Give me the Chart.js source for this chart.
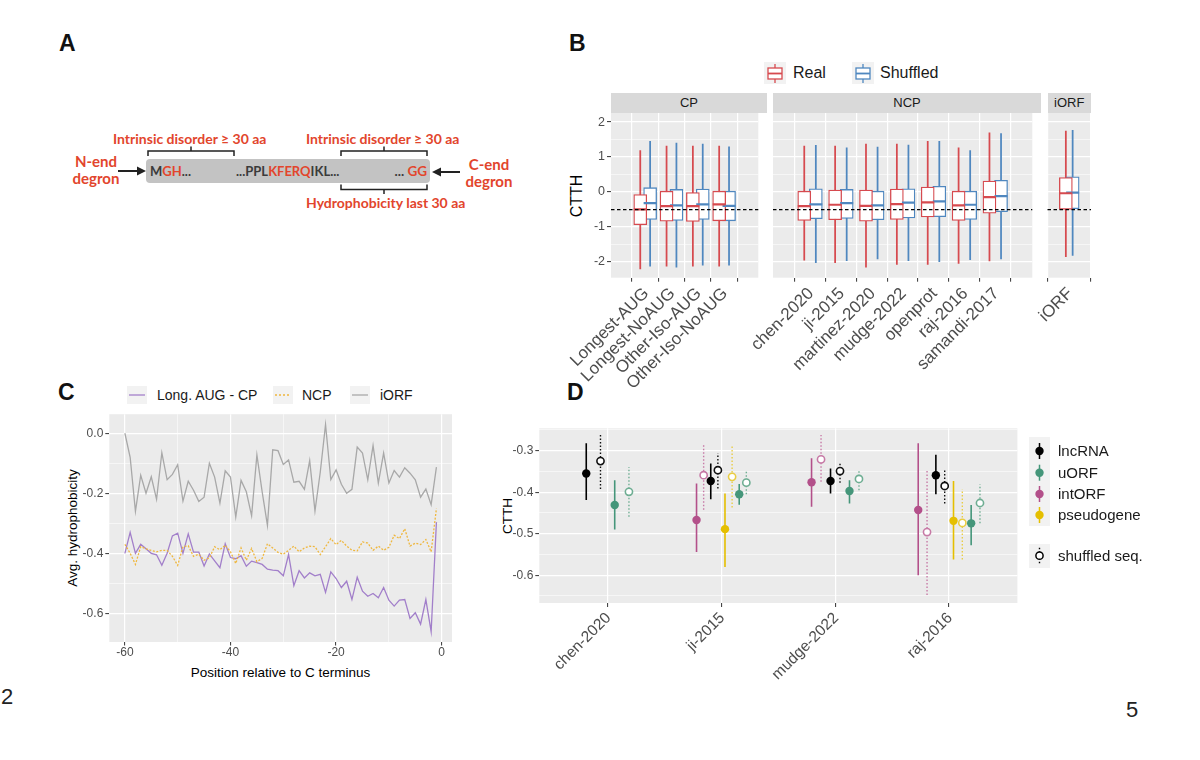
<!DOCTYPE html>
<html><head><meta charset="utf-8">
<script src="https://cdn.jsdelivr.net/npm/chart.js@4.4.1/dist/chart.umd.min.js"></script>
<style>
body{margin:0;background:#fff;width:1200px;height:760px;overflow:hidden;position:relative;font-family:"Liberation Sans",Arial,sans-serif;}
canvas{position:absolute;}
.t{position:absolute;white-space:nowrap;}
.plbl{position:absolute;font-weight:bold;font-size:23px;color:#111;line-height:23px;}
.ared{color:#e2452c;}
.adark{color:#3b3b3b;}
.at{position:absolute;white-space:nowrap;font-family:Lato,"Open Sans",sans-serif;font-weight:bold;font-size:14px;line-height:16px;}
.strip{position:absolute;background:#d9d9d9;color:#1a1a1a;font-size:13px;text-align:center;line-height:20px;height:20px;}
.rot{position:absolute;transform:rotate(-90deg);text-align:center;white-space:nowrap;color:#000;}
.keybg{position:absolute;background:#f2f2f2;}
</style></head><body>

<!-- panel letters and page numbers -->
<div class="plbl" style="left:59px;top:32px;">A</div>
<div class="plbl" style="left:569px;top:32px;">B</div>
<div class="plbl" style="left:58px;top:381px;">C</div>
<div class="plbl" style="left:567px;top:381px;">D</div>
<div class="t" style="left:1px;top:685px;font-size:22px;line-height:24px;color:#222;">2</div>
<div class="t" style="left:1126px;top:698px;font-size:22px;line-height:24px;color:#222;">5</div>

<!-- Panel A diagram -->
<div style="position:absolute;left:146px;top:159px;width:284px;height:24px;background:#c3c3c3;border-radius:4px;"></div>
<svg style="position:absolute;left:0;top:0;" width="560" height="230">
  <g stroke="#222" stroke-width="1.5" fill="none">
    <path d="M148,156 L148,151 L234,151 L234,156 M191,151 L191,146.5"/>
    <path d="M341,156 L341,151 L427,151 L427,156 M384,151 L384,146.5"/>
    <path d="M341,184.5 L341,189.5 L427,189.5 L427,184.5 M384,189.5 L384,194"/>
    <path d="M118,171 L139,171" stroke-width="2"/>
    <path d="M460,172 L439,172" stroke-width="2"/>
  </g>
  <polygon points="146,171 137,166.5 137,175.5" fill="#222"/>
  <polygon points="432,172 441,167.5 441,176.5" fill="#222"/>
</svg>
<div class="at ared" style="left:113px;top:131px;">Intrinsic disorder ≥ 30 aa</div>
<div class="at ared" style="left:306px;top:131px;">Intrinsic disorder ≥ 30 aa</div>
<div class="at ared" style="left:306px;top:194.5px;">Hydrophobicity last 30 aa</div>
<div class="at ared" style="left:61px;top:152.5px;width:70px;text-align:center;font-size:15px;line-height:17px;">N-end<br>degron</div>
<div class="at ared" style="left:454px;top:155.5px;width:70px;text-align:center;font-size:15px;line-height:17px;">C-end<br>degron</div>
<div class="at" style="left:150px;top:163px;font-size:13px;line-height:16px;"><span class="adark">M</span><span class="ared">GH</span><span class="adark">...</span></div>
<div class="at" style="left:236px;top:163px;font-size:13px;line-height:16px;"><span class="adark">...PPL</span><span class="ared">KFERQ</span><span class="adark">IKL...</span></div>
<div class="at" style="left:367px;top:163px;width:60px;text-align:right;font-size:13.5px;line-height:16px;"><span class="adark">... </span><span class="ared">GG</span></div>

<!-- Panel B legend -->
<div class="keybg" style="left:764px;top:62px;width:22px;height:22px;"></div>
<div class="keybg" style="left:852px;top:62px;width:22px;height:22px;"></div>
<svg style="position:absolute;left:760px;top:58px;" width="120" height="30">
  <g fill="#fff" stroke-width="1.3">
    <path d="M15,6 L15,10 M15,21 L15,25" stroke="#d64a4f"/>
    <rect x="8" y="10" width="14" height="11" stroke="#d64a4f"/>
    <path d="M8,15.5 L22,15.5" stroke="#d64a4f" stroke-width="1.8"/>
    <path d="M103,6 L103,10 M103,21 L103,25" stroke="#4f87bf"/>
    <rect x="96" y="10" width="14" height="11" stroke="#4f87bf"/>
    <path d="M96,15.5 L110,15.5" stroke="#4f87bf" stroke-width="1.8"/>
  </g>
</svg>
<div class="t" style="left:793px;top:63px;font-size:16px;line-height:20px;color:#1a1a1a;">Real</div>
<div class="t" style="left:880px;top:63px;font-size:16px;line-height:20px;color:#1a1a1a;">Shuffled</div>

<!-- Panel B strips -->
<div class="strip" style="left:611px;top:93px;width:156px;">CP</div>
<div class="strip" style="left:773px;top:93px;width:268px;">NCP</div>
<div class="strip" style="left:1047.5px;top:93px;width:43.5px;">iORF</div>
<div class="rot" style="left:536.5px;top:185.5px;width:80px;height:20px;line-height:20px;font-size:16px;">CTTH</div>

<canvas id="bCP" width="227" height="305" style="left:540px;top:103px;"></canvas>
<canvas id="bNCP" width="308" height="305" style="left:733px;top:103px;"></canvas>
<canvas id="bIORF" width="96" height="305" style="left:1020px;top:103px;"></canvas>

<!-- Panel C legend and titles -->
<div class="keybg" style="left:127px;top:386px;width:20px;height:18px;"></div>
<div class="keybg" style="left:273px;top:386px;width:20px;height:18px;"></div>
<div class="keybg" style="left:350px;top:386px;width:20px;height:18px;"></div>
<svg style="position:absolute;left:120px;top:380px;" width="260" height="30">
  <path d="M9,15 L25,15" stroke="#a27fca" stroke-width="1.3"/>
  <path d="M155,15 L171,15" stroke="#efb73e" stroke-width="1.3" stroke-dasharray="2,2"/>
  <path d="M232,15 L248,15" stroke="#a8a8a8" stroke-width="1.3"/>
</svg>
<div class="t" style="left:157px;top:387px;font-size:14px;line-height:17px;color:#1a1a1a;">Long. AUG - CP</div>
<div class="t" style="left:302px;top:387px;font-size:14px;line-height:17px;color:#1a1a1a;">NCP</div>
<div class="t" style="left:380px;top:387px;font-size:14px;line-height:17px;color:#1a1a1a;">iORF</div>
<div class="rot" style="left:7.5px;top:519px;width:130px;height:18px;line-height:18px;font-size:13.5px;">Avg. hydrophobicity</div>
<div class="t" style="left:180px;top:664px;width:201px;text-align:center;font-size:13.5px;line-height:18px;color:#000;">Position relative to C terminus</div>
<canvas id="cLine" width="422" height="259" style="left:40px;top:405px;"></canvas>

<!-- Panel D legend and title -->
<div class="keybg" style="left:1029px;top:437px;width:21px;height:89px;"></div>
<div class="keybg" style="left:1029px;top:544px;width:21px;height:24px;"></div>
<svg style="position:absolute;left:1020px;top:430px;" width="40" height="145">
  <path d="M19.5,13 L19.5,29" stroke="#000" stroke-width="1.5"/><circle cx="19.5" cy="21" r="4.2" fill="#000"/>
  <path d="M19.5,34.7 L19.5,50.7" stroke="#45967a" stroke-width="1.5"/><circle cx="19.5" cy="42.7" r="4.2" fill="#45967a"/>
  <path d="M19.5,56 L19.5,72" stroke="#b3508a" stroke-width="1.5"/><circle cx="19.5" cy="64" r="4.2" fill="#b3508a"/>
  <path d="M19.5,77 L19.5,93" stroke="#e5bf00" stroke-width="1.5"/><circle cx="19.5" cy="85" r="4.2" fill="#e5bf00"/>
  <path d="M19.5,117.7 L19.5,133.7" stroke="#000" stroke-width="1.4" stroke-dasharray="1.5,2"/><circle cx="19.5" cy="125.7" r="3.6" fill="#fff" stroke="#000" stroke-width="1.5"/>
</svg>
<div class="t" style="left:1058px;top:442px;font-size:15px;line-height:18px;color:#1a1a1a;">lncRNA</div>
<div class="t" style="left:1058px;top:463.7px;font-size:15px;line-height:18px;color:#1a1a1a;">uORF</div>
<div class="t" style="left:1058px;top:485px;font-size:15px;line-height:18px;color:#1a1a1a;">intORF</div>
<div class="t" style="left:1058px;top:506px;font-size:15px;line-height:18px;color:#1a1a1a;">pseudogene</div>
<div class="t" style="left:1058px;top:546.7px;font-size:15px;line-height:18px;color:#1a1a1a;">shuffled seq.</div>
<div class="rot" style="left:478px;top:507px;width:60px;height:18px;line-height:18px;font-size:13.5px;">CTTH</div>
<canvas id="dPoint" width="543" height="275" style="left:480px;top:418px;"></canvas>

<script>
// ---------------- DATA ----------------
// Panel B : CTTH box plots (min, Q1, median, Q3, max)
const bCategories = ['Longest-AUG','Longest-NoAUG','Other-Iso-AUG','Other-Iso-NoAUG',
  'chen-2020','ji-2015','martinez-2020','mudge-2022','openprot','raj-2016','samandi-2017','iORF'];
const bFacets = ['CP','CP','CP','CP','NCP','NCP','NCP','NCP','NCP','NCP','NCP','iORF'];
const realMin = [-2.21,-2.13,-2.13,-2.13,-1.96,-2.03,-2.16,-2.08,-2.08,-2.05,-1.98,-1.86];
const realQ1  = [-0.94,-0.84,-0.85,-0.83,-0.82,-0.80,-0.84,-0.79,-0.72,-0.82,-0.61,-0.50];
const realMed = [-0.50,-0.41,-0.41,-0.36,-0.41,-0.37,-0.40,-0.35,-0.30,-0.39,-0.15,-0.04];
const realQ3  = [-0.08, 0.02, 0.00, 0.02, 0.02, 0.05, 0.05, 0.08, 0.14, 0.02, 0.31, 0.41];
const realMax = [ 1.18, 1.31, 1.31, 1.31, 1.31, 1.31, 1.37, 1.37, 1.45, 1.26, 1.69, 1.74];
const shufMin = [-2.13,-2.16,-2.10,-2.10,-2.03,-1.97,-1.92,-1.97,-2.00,-1.94,-1.92,-1.82];
const shufQ1  = [-0.79,-0.82,-0.79,-0.83,-0.77,-0.76,-0.80,-0.75,-0.71,-0.79,-0.57,-0.48];
const shufMed = [-0.32,-0.39,-0.36,-0.40,-0.36,-0.32,-0.39,-0.31,-0.27,-0.37,-0.12,-0.02];
const shufQ3  = [ 0.12, 0.07, 0.08, 0.02, 0.09, 0.07, 0.02, 0.09, 0.16, 0.02, 0.33, 0.43];
const shufMax = [ 1.45, 1.40, 1.37, 1.29, 1.33, 1.26, 1.28, 1.34, 1.45, 1.18, 1.67, 1.76];
const bRefLine = -0.51;
const bYMajor = [-2,-1,0,1,2];
const bYMinor = [-1.5,-0.5,0.5,1.5];

// Panel C : average hydrophobicity by position
const cPos = [-60,-59,-58,-57,-56,-55,-54,-53,-52,-51,-50,-49,-48,-47,-46,-45,-44,-43,-42,-41,
  -40,-39,-38,-37,-36,-35,-34,-33,-32,-31,-30,-29,-28,-27,-26,-25,-24,-23,-22,-21,
  -20,-19,-18,-17,-16,-15,-14,-13,-12,-11,-10,-9,-8,-7,-6,-5,-4,-3,-2,-1];
const cLongAugCP = [-0.40,-0.33,-0.40,-0.37,-0.385,-0.40,-0.405,-0.44,-0.40,-0.342,
  -0.333,-0.40,-0.335,-0.396,-0.396,-0.442,-0.402,-0.425,-0.448,-0.368,
  -0.414,-0.418,-0.408,-0.443,-0.426,-0.431,-0.437,-0.453,-0.456,-0.458,
  -0.475,-0.404,-0.508,-0.458,-0.482,-0.465,-0.475,-0.47,-0.53,-0.462,
  -0.484,-0.514,-0.493,-0.554,-0.48,-0.526,-0.543,-0.534,-0.548,-0.514,
  -0.556,-0.576,-0.556,-0.554,-0.617,-0.598,-0.636,-0.554,-0.661,-0.296];
const cNCP = [-0.37,-0.40,-0.437,-0.378,-0.385,-0.39,-0.395,-0.39,-0.39,-0.41,
  -0.44,-0.378,-0.375,-0.41,-0.403,-0.423,-0.415,-0.378,-0.388,-0.373,
  -0.395,-0.434,-0.382,-0.423,-0.384,-0.428,-0.417,-0.368,-0.382,-0.397,
  -0.403,-0.39,-0.376,-0.395,-0.382,-0.376,-0.378,-0.404,-0.378,-0.351,
  -0.371,-0.357,-0.376,-0.39,-0.392,-0.362,-0.366,-0.39,-0.376,-0.39,
  -0.38,-0.34,-0.351,-0.318,-0.376,-0.366,-0.371,-0.354,-0.395,-0.251];
const cIORF = [0.00,-0.08,-0.26,-0.14,-0.20,-0.145,-0.22,-0.065,-0.155,-0.137,
  -0.105,-0.226,-0.16,-0.19,-0.227,-0.213,-0.10,-0.146,-0.233,-0.125,
  -0.146,-0.279,-0.157,-0.195,-0.275,-0.072,-0.195,-0.307,-0.055,-0.058,
  -0.104,-0.089,-0.163,-0.16,-0.187,-0.091,-0.259,-0.13,0.029,-0.154,
  -0.122,-0.17,-0.20,-0.187,-0.046,-0.066,-0.155,-0.041,-0.166,-0.066,
  -0.166,-0.124,-0.146,-0.115,-0.133,-0.155,-0.213,-0.186,-0.238,-0.113];
const cXMajor = [-60,-40,-20,0];
const cXMinor = [-50,-30,-10];
const cYMajor = [-0.6,-0.4,-0.2,0.0];
const cYMinor = [-0.5,-0.3,-0.1];

// Panel D : CTTH mean with interval per dataset and ORF type (null = absent)
const dCategories = ['chen-2020','ji-2015','mudge-2022','raj-2016'];
const dGroups = ['intORF','lncRNA','pseudogene','uORF'];
const lncRNA_real_mid = [-0.355,-0.373,-0.373,-0.359];
const lncRNA_real_lo  = [-0.419,-0.417,-0.403,-0.405];
const lncRNA_real_hi  = [-0.282,-0.331,-0.343,-0.310];
const lncRNA_shuf_mid = [-0.325,-0.347,-0.349,-0.385];
const lncRNA_shuf_lo  = [-0.392,-0.391,-0.377,-0.427];
const lncRNA_shuf_hi  = [-0.262,-0.306,-0.327,-0.345];
const uORF_real_mid = [-0.431,-0.405,-0.397,-0.475];
const uORF_real_lo  = [-0.490,-0.430,-0.427,-0.528];
const uORF_real_hi  = [-0.371,-0.380,-0.371,-0.431];
const uORF_shuf_mid = [-0.399,-0.377,-0.368,-0.426];
const uORF_shuf_lo  = [-0.459,-0.405,-0.395,-0.475];
const uORF_shuf_hi  = [-0.339,-0.351,-0.345,-0.381];
const intORF_real_mid = [null,-0.467,-0.376,-0.443];
const intORF_real_lo  = [null,-0.544,-0.435,-0.600];
const intORF_real_hi  = [null,-0.379,-0.318,-0.282];
const intORF_shuf_mid = [null,-0.359,-0.321,-0.496];
const intORF_shuf_lo  = [null,-0.442,-0.375,-0.648];
const intORF_shuf_hi  = [null,-0.282,-0.262,-0.345];
const pseudogene_real_mid = [null,-0.489,null,-0.469];
const pseudogene_real_lo  = [null,-0.580,null,-0.562];
const pseudogene_real_hi  = [null,-0.403,null,-0.373];
const pseudogene_shuf_mid = [null,-0.363,null,-0.474];
const pseudogene_shuf_lo  = [null,-0.437,null,-0.562];
const pseudogene_shuf_hi  = [null,-0.289,null,-0.393];
const dYMajor = [-0.6,-0.5,-0.4,-0.3];
const dYMinor = [-0.65,-0.55,-0.45,-0.35,-0.25];

// ---------------- STYLE / LAYOUT ----------------
const FONT = '"Liberation Sans", Arial, Helvetica, sans-serif';
const RED = '#d64a4f', BLUE = '#4f87bf';
const AXT = '#4d4d4d', PANEL = '#ebebeb';
const dColors = {lncRNA:'#000000', uORF:'#45967a', intORF:'#b3508a', pseudogene:'#e5bf00'};
const dShufColors = {lncRNA:'#111111', uORF:'#6fae93', intORF:'#c77aa6', pseudogene:'#e9cd45'};
const dDodge = [0.5,0.5,0.5,0.62];

Chart.defaults.font.family = FONT;
Chart.defaults.animation = false;
Chart.defaults.events = [];
Chart.defaults.plugins.legend.display = false;
Chart.defaults.plugins.tooltip.enabled = false;

const panelBg = {id:'panelBg', beforeDraw(c){const a=c.chartArea,x=c.ctx;x.save();x.fillStyle=PANEL;x.fillRect(a.left,a.top,a.right-a.left,a.bottom-a.top);x.restore();}};
const hline = {id:'hline', afterDatasetsDraw(c,args,o){ if(o.value==null) return; const y=c.scales.y.getPixelForValue(o.value),a=c.chartArea,x=c.ctx;
  x.save();x.strokeStyle='#000';x.lineWidth=1.1;x.setLineDash([3.5,2.5]);x.beginPath();x.moveTo(a.left,y);x.lineTo(a.right,y);x.stroke();x.restore();}};

function valScale(min,max,major,minor,fmt,show,width,fontSize){
  const all = major.concat(minor).sort((a,b)=>a-b);
  const isMaj = v => major.some(m=>Math.abs(m-v)<1e-9);
  return {type:'linear', min, max,
    afterBuildTicks: s => { s.ticks = all.map(v=>({value:v})); },
    afterFit: s => { s.width = width; },
    border:{display:false},
    grid:{color:'#ffffff', lineWidth: c => (c.tick && isMaj(c.tick.value)) ? 1.2 : 0.55,
      drawTicks: show, tickLength:4, tickWidth:1,
      tickColor: c => (c.tick && isMaj(c.tick.value)) ? '#333333' : 'rgba(0,0,0,0)'},
    ticks:{display:show, autoSkip:false, color:AXT, padding:2, font:{size:fontSize},
      callback: v => isMaj(v) ? fmt(v) : ''}
  };
}
function catScale(labels, height, fontSize, pad, shift){
  return {type:'linear', min:-0.6, max:labels.length-0.4,
    afterBuildTicks: s => { s.ticks = labels.map((l,i)=>({value:i})); },
    afterFit: s => { s.height = height; },
    border:{display:false},
    grid:{color:'#ffffff', lineWidth:1.2, tickLength:4, tickWidth:1, tickColor:'#333333'},
    ticks:{autoSkip:false, minRotation:45, maxRotation:45, color:AXT, padding:pad, labelOffset:shift,
      font:{size:fontSize}, callback: v => labels[Math.round(v)]}
  };
}

// ---------------- PANEL B ----------------
function boxChart(id, facet, yWidth, padRight, showY){
  const idx = bCategories.map((c,i)=>i).filter(i=>bFacets[i]===facet);
  const labels = idx.map(i=>bCategories[i]);
  const dodge = 0.1875;
  const ds = [];
  [[RED,-1,realMin,realQ1,realMed,realQ3,realMax],[BLUE,1,shufMin,shufQ1,shufMed,shufQ3,shufMax]]
  .forEach(([col,side,mn,q1,md,q3,mx])=>{
    const xs = idx.map((_,k)=>k+side*dodge);
    ds.push({type:'bar', grouped:false, order:3, barThickness:1.1, backgroundColor:col, borderWidth:0,
      data: xs.map((x,k)=>({x, y:[mn[idx[k]], mx[idx[k]]]}))});
    ds.push({type:'bar', grouped:false, order:2, barThickness:13, backgroundColor:'#ffffff', borderColor:col,
      borderWidth:1.3, borderSkipped:false, data: xs.map((x,k)=>({x, y:[q1[idx[k]], q3[idx[k]]]}))});
    ds.push({type:'scatter', order:1, pointStyle:'line', pointRadius:6.5, pointBorderColor:col, borderColor:col,
      pointBorderWidth:2.2, data: xs.map((x,k)=>({x, y:md[idx[k]]}))});
  });
  new Chart(document.getElementById(id), {
    type:'bar', data:{datasets:ds},
    options:{responsive:false, layout:{padding:{top:10,right:padRight,left:0,bottom:0}},
      plugins:{hline:{value:bRefLine}},
      scales:{ x: catScale(labels,130.3,17,2,1),
               y: valScale(-2.46,2.26,bYMajor,bYMinor,v=>String(v),showY,yWidth,12.5)}},
    plugins:[panelBg,hline]
  });
}
boxChart('bCP','CP',71,0,true);
boxChart('bNCP','NCP',40,0,false);
boxChart('bIORF','iORF',27.5,25,false);

// ---------------- PANEL C ----------------
(function(){
  const all = cLongAugCP.concat(cNCP, cIORF);
  const ymin = Math.min(...all), ymax = Math.max(...all), yr = ymax-ymin;
  const xr = Math.max(...cPos)-Math.min(...cPos);
  const mk = arr => cPos.map((p,i)=>({x:p, y:arr[i]}));
  const xs = valScale(Math.min(...cPos)-0.05*xr, Math.max(...cPos)+0.05*xr, cXMajor, cXMinor, v=>String(v), true, 0, 12);
  xs.afterFit = s => { s.height = 22; };
  xs.ticks.padding = 0; xs.grid.tickLength = 3.5;
  new Chart(document.getElementById('cLine'), {
    type:'line',
    data:{datasets:[
      {label:'Long. AUG - CP', data:mk(cLongAugCP), borderColor:'#a27fca', borderWidth:1.3, pointRadius:0, order:3},
      {label:'NCP', data:mk(cNCP), borderColor:'#efb73e', borderWidth:1.3, borderDash:[2,1.6], pointRadius:0, order:2},
      {label:'iORF', data:mk(cIORF), borderColor:'#a8a8a8', borderWidth:1.3, pointRadius:0, order:1}
    ]},
    options:{responsive:false, layout:{padding:{top:8.3,right:10,left:0,bottom:0}},
      scales:{ x: xs,
               y: valScale(ymin-0.05*yr, ymax+0.05*yr, cYMajor, cYMinor, v=>v.toFixed(1), true, 69.3, 12)}},
    plugins:[panelBg]
  });
})();

// ---------------- PANEL D ----------------
(function(){
  const series = {
    lncRNA:{real:[lncRNA_real_mid,lncRNA_real_lo,lncRNA_real_hi], shuf:[lncRNA_shuf_mid,lncRNA_shuf_lo,lncRNA_shuf_hi]},
    uORF:{real:[uORF_real_mid,uORF_real_lo,uORF_real_hi], shuf:[uORF_shuf_mid,uORF_shuf_lo,uORF_shuf_hi]},
    intORF:{real:[intORF_real_mid,intORF_real_lo,intORF_real_hi], shuf:[intORF_shuf_mid,intORF_shuf_lo,intORF_shuf_hi]},
    pseudogene:{real:[pseudogene_real_mid,pseudogene_real_lo,pseudogene_real_hi], shuf:[pseudogene_shuf_mid,pseudogene_shuf_lo,pseudogene_shuf_hi]}
  };
  function xPos(ci, g, kind){
    const present = dGroups.filter(q => series[q].real[0][ci] !== null);
    const n = present.length*2;
    const slot = present.indexOf(g)*2 + (kind==='shuf'?1:0);
    const w = dDodge[ci];
    return ci + (slot+0.5)*w/n - w/2;
  }
  const ds = [];
  dGroups.forEach(g=>{
    ['real','shuf'].forEach(kind=>{
      const [mid,lo,hi] = series[g][kind];
      const col = kind==='real' ? dColors[g] : dShufColors[g];
      const seg = [], pts = [];
      dCategories.forEach((c,ci)=>{
        if(mid[ci]===null) return;
        const x = xPos(ci,g,kind);
        seg.push({x, y:lo[ci]}, {x, y:hi[ci]}, {x, y:null});
        pts.push({x, y:mid[ci]});
      });
      ds.push({type:'line', data:seg, borderColor:col, borderWidth: kind==='real'?1.6:1.4,
        borderDash: kind==='real'?[]:[1.5,2], pointRadius:0, spanGaps:false, order:2});
      ds.push({type:'scatter', data:pts, pointStyle:'circle',
        pointRadius: kind==='real'?4.2:3.6,
        pointBackgroundColor: kind==='real'?col:'#ffffff', backgroundColor: kind==='real'?col:'#ffffff',
        pointBorderColor:col, borderColor:col, pointBorderWidth: kind==='real'?0:1.6, order:1});
    });
  });
  new Chart(document.getElementById('dPoint'), {
    type:'scatter', data:{datasets:ds},
    options:{responsive:false, layout:{padding:{top:10.3,right:0,left:0,bottom:0}},
      scales:{ x: catScale(dCategories,90,15.5,2,1),
               y: valScale(-0.667,-0.246,dYMajor,dYMinor,v=>v.toFixed(1),true,59.3,12)}},
    plugins:[panelBg]
  });
})();
</script>
</body></html>
